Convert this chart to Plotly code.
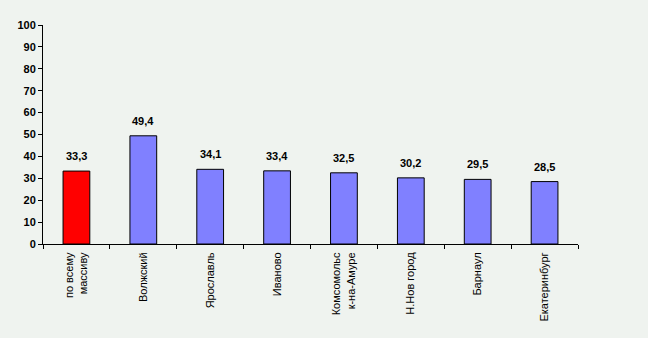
import plotly.graph_objects as go

categories = ["по всему<br>массиву", "Волжский", "Ярославль", "Иваново",
              "Комсомольс<br>к-на-Амуре", "Н.Нов город", "Барнаул", "Екатеринбург"]
values = [33.3, 49.4, 34.1, 33.4, 32.5, 30.2, 29.5, 28.5]
colors = ["#FF0000"] + ["#8080FF"] * 7
y_ticks = list(range(0, 101, 10))

labels = [f"{v:.1f}".replace(".", ",") for v in values]

fig = go.Figure()
fig.add_trace(go.Bar(
    x=categories, y=values,
    marker=dict(color=colors, line=dict(color="#000000", width=1)),
    width=0.4,
))

for c, v, t in zip(categories, values, labels):
    fig.add_annotation(x=c, y=v, text=t, showarrow=False, yanchor="bottom",
                       yshift=7, font=dict(family="Liberation Sans, Arial", size=11,
                                            color="#000000", weight="bold"))

bg = "#EFF3EF"
fig.update_layout(
    width=648, height=338,
    margin=dict(l=43, r=70, t=25, b=94),
    paper_bgcolor=bg, plot_bgcolor=bg,
    showlegend=False,
    font=dict(family="Liberation Sans, Arial", color="#000000"),
    xaxis=dict(
        type="category", showline=True, linecolor="#000000", linewidth=1,
        ticks="outside", tickson="boundaries", ticklen=4, tickcolor="#000000",
        tickangle=-90, tickfont=dict(size=11), showgrid=False, zeroline=False,
        ticklabelstandoff=3,
    ),
    yaxis=dict(
        range=[0, 100], tickvals=y_ticks, showline=True, linecolor="#000000",
        linewidth=1, ticks="outside", ticklen=4, tickcolor="#000000",
        tickfont=dict(size=11, weight="bold"), showgrid=False, zeroline=False,
    ),
)

fig.write_html("out.html")
